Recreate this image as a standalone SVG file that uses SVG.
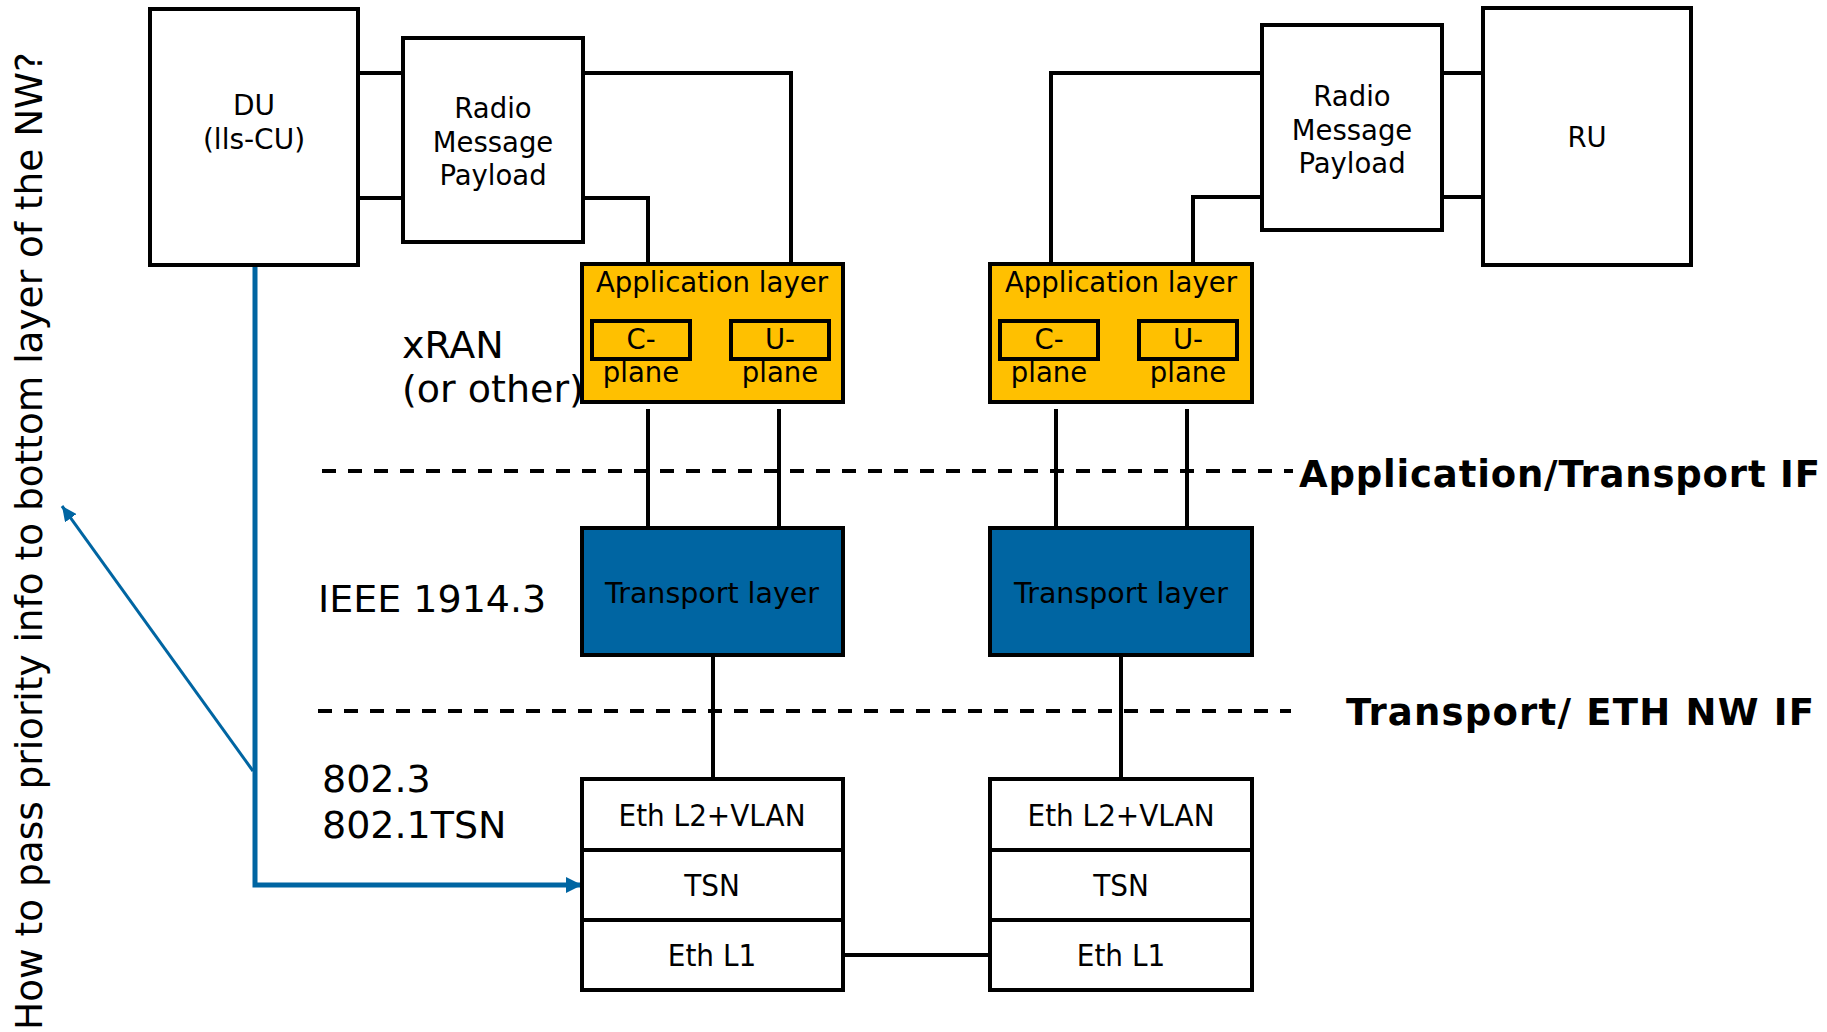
<svg xmlns="http://www.w3.org/2000/svg" width="1827" height="1032" viewBox="0 0 1827 1032">
<style>
.box{fill:#fff;stroke:#000;stroke-width:4}
.app{fill:#FFC000;stroke:#000;stroke-width:4}
.sub{fill:#FFC000;stroke:#000;stroke-width:4}
.tr{fill:#0065A2;stroke:#000;stroke-width:4}
.ln{fill:none;stroke:#000;stroke-width:4}
.dash{fill:none;stroke:#000;stroke-width:4;stroke-dasharray:14 12}
.blue{fill:none;stroke:#0065A2;stroke-width:5}
.blue2{fill:none;stroke:#0065A2;stroke-width:3}
text{font-family:"DejaVu Sans","Verdana",sans-serif;fill:#000}
.t27{font-size:27.5px;text-anchor:middle}
.t28{font-size:28px;text-anchor:middle}
.t36{font-size:38px}
.eth{font-family:"DejaVu Sans Condensed","Liberation Sans Narrow","Liberation Sans",sans-serif;font-size:31px;text-anchor:middle}
.bold{font-weight:bold;font-size:37px}
.vert{font-family:"Liberation Sans Narrow","DejaVu Sans Condensed","Liberation Sans",sans-serif;font-size:38px}
</style>
<defs>
<marker id="ah" markerUnits="userSpaceOnUse" markerWidth="17" markerHeight="16" refX="16" refY="8" orient="auto">
<path d="M0,0 L16,8 L0,16 z" fill="#0065A2"/>
</marker>
<marker id="ah2" markerUnits="userSpaceOnUse" markerWidth="16" markerHeight="14" refX="15" refY="7" orient="auto">
<path d="M0,0 L15,7 L0,14 z" fill="#0065A2"/>
</marker>
</defs>
<rect width="1827" height="1032" fill="#fff"/>

<g id="connectors">
<path class="ln" d="M354,73 H403 M358,198 H403"/>
<path class="ln" d="M583,73 H791 V264 M583,198 H648 V264"/>
<path class="ln" d="M1262,73 H1051 V264 M1262,197 H1193 V264"/>
<path class="ln" d="M1440,73 H1483 M1440,197 H1483"/>
<path class="ln" d="M648,409 V535 M779,409 V535 M1056,409 V535 M1187,409 V535"/>
<path class="ln" d="M713,648 V779 M1121,648 V779"/>
<path class="ln" d="M843,955 H990"/>
<path class="blue" d="M255,266 V885 H582" marker-end="url(#ah)"/>
<path class="blue2" d="M253,771 L62,506" marker-end="url(#ah2)"/>
</g>

<g id="interfaces">
<path class="dash" d="M322,471 H1293"/>
<path class="dash" d="M318,711 H1291"/>
<text class="bold" x="1299" y="487" textLength="521" lengthAdjust="spacing">Application/Transport IF</text>
<text class="bold" x="1346" y="725" textLength="468" lengthAdjust="spacing">Transport/ ETH NW IF</text>
</g>

<g id="du">
<rect class="box" x="150" y="9" width="208" height="256"/>
<text class="t28" x="254" y="115">DU</text>
<text class="t28" x="254" y="149">(lls-CU)</text>
</g>

<g id="rmp-left">
<rect class="box" x="403" y="38" width="180" height="204"/>
<text class="t27" x="493" y="118">Radio</text>
<text class="t27" x="493" y="152">Message</text>
<text class="t27" x="493" y="185">Payload</text>
</g>

<g id="rmp-right">
<rect class="box" x="1262" y="25" width="180" height="205"/>
<text class="t27" x="1352" y="106">Radio</text>
<text class="t27" x="1352" y="140">Message</text>
<text class="t27" x="1352" y="173">Payload</text>
</g>

<g id="ru">
<rect class="box" x="1483" y="8" width="208" height="257"/>
<text class="t27" x="1587" y="147">RU</text>
</g>

<g id="app-left">
<rect class="app" x="582" y="264" width="261" height="138"/>
<text class="t27" x="712" y="292" textLength="232" lengthAdjust="spacingAndGlyphs">Application layer</text>
<rect class="sub" x="592" y="321" width="98" height="38"/>
<rect class="sub" x="731" y="321" width="98" height="38"/>
<text class="t27" x="641" y="349">C-</text>
<text class="t27" x="780" y="349">U-</text>
<text class="t27" x="641" y="382">plane</text>
<text class="t27" x="780" y="382">plane</text>
</g>

<g id="app-right">
<rect class="app" x="990" y="264" width="262" height="138"/>
<text class="t27" x="1121" y="292" textLength="232" lengthAdjust="spacingAndGlyphs">Application layer</text>
<rect class="sub" x="1000" y="321" width="98" height="38"/>
<rect class="sub" x="1139" y="321" width="98" height="38"/>
<text class="t27" x="1049" y="349">C-</text>
<text class="t27" x="1188" y="349">U-</text>
<text class="t27" x="1049" y="382">plane</text>
<text class="t27" x="1188" y="382">plane</text>
</g>

<g id="transport-left">
<rect class="tr" x="582" y="528" width="261" height="127"/>
<text class="t27" x="712" y="603" textLength="214" lengthAdjust="spacingAndGlyphs">Transport layer</text>
</g>

<g id="transport-right">
<rect class="tr" x="990" y="528" width="262" height="127"/>
<text class="t27" x="1121" y="603" textLength="214" lengthAdjust="spacingAndGlyphs">Transport layer</text>
</g>

<g id="eth-left">
<rect class="box" x="582" y="779" width="261" height="211"/>
<path class="ln" d="M582,850 H843 M582,920 H843"/>
<text class="eth" x="712" y="826">Eth L2+VLAN</text>
<text class="eth" x="712" y="896">TSN</text>
<text class="eth" x="712" y="966">Eth L1</text>
</g>

<g id="eth-right">
<rect class="box" x="990" y="779" width="262" height="211"/>
<path class="ln" d="M990,850 H1252 M990,920 H1252"/>
<text class="eth" x="1121" y="826">Eth L2+VLAN</text>
<text class="eth" x="1121" y="896">TSN</text>
<text class="eth" x="1121" y="966">Eth L1</text>
</g>

<g id="labels">
<text class="t36" x="402" y="358">xRAN</text>
<text class="t36" x="402" y="402">(or other)</text>
<text class="t36" x="318" y="612">IEEE 1914.3</text>
<text class="t36" x="322" y="792">802.3</text>
<text class="t36" x="322" y="838">802.1TSN</text>
<text class="vert" transform="translate(42,1030) rotate(-90)" textLength="978" lengthAdjust="spacingAndGlyphs">How to pass priority info to bottom layer of the NW?</text>
</g>
</svg>
